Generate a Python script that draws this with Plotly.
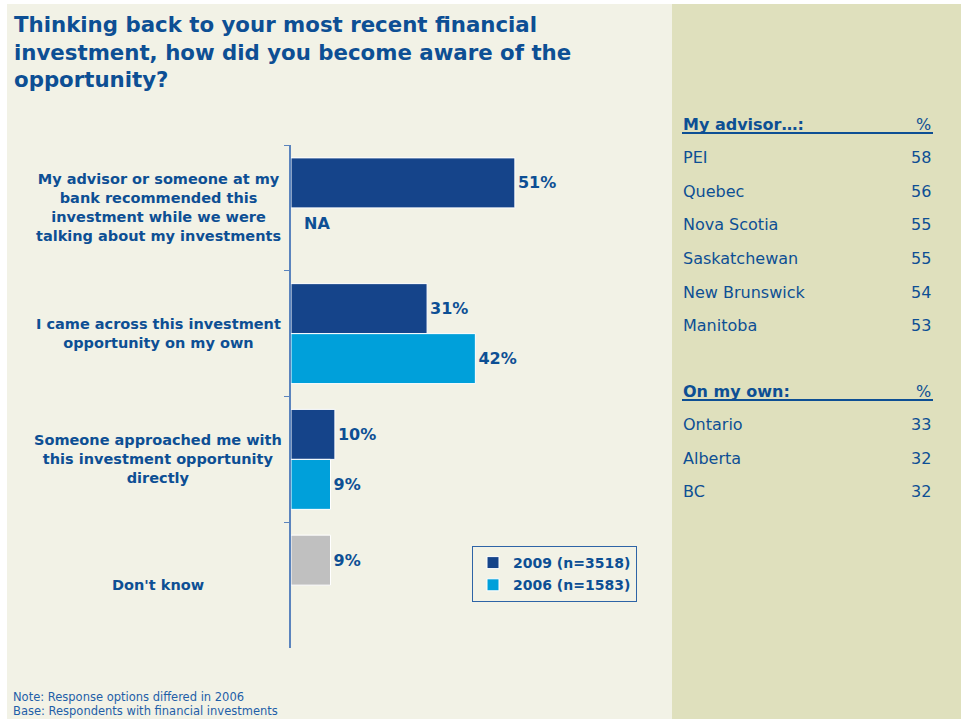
import plotly.graph_objects as go

# ---------------- data ----------------
categories = [
    "My advisor or someone at my<br>bank recommended this<br>investment while we were<br>talking about my investments",
    "I came across this investment<br>opportunity on my own",
    "Someone approached me with<br>this investment opportunity<br>directly",
    "Don't know",
]
v2009 = [51, 31, 10, 9]
v2006 = [None, 42, 9, None]
series_names = ["2009 (n=3518)", "2006 (n=1583)"]

advisor_regions = ["PEI", "Quebec", "Nova Scotia", "Saskatchewan", "New Brunswick", "Manitoba"]
advisor_pct = [58, 56, 55, 55, 54, 53]
own_regions = ["Ontario", "Alberta", "BC"]
own_pct = [33, 32, 32]

title_text = ("Thinking back to your most recent financial<br>"
              "investment, how did you become aware of the<br>opportunity?")
notes = ["Note: Response options differed in 2006", "Base: Respondents with financial investments"]

# ---------------- style ----------------
DARK = "#15448A"
LIGHT = "#00A0DA"
GRAY = "#C0C0C0"
TXT = "#0D4F94"
CREAM = "#F2F2E6"
GREEN = "#DFE0BD"
FONT = "DejaVu Sans"

W, H = 961, 719
ML, MR, MT, MB = 291, 296, 145, 71


def px(X):
    return (X - ML) / (W - ML - MR)


def py(Y):
    return (H - MB - Y) / (H - MT - MB)


colors2009 = [DARK] * 3 + [GRAY]

fig = go.Figure()
fig.add_trace(go.Bar(
    y=categories, x=v2009, orientation="h", name=series_names[0],
    marker=dict(color=colors2009, line=dict(color="white", width=1)),
    texttemplate="<b>%{x}%</b>", textposition="outside", cliponaxis=False,
    textfont=dict(family=FONT, size=16, color=TXT),
    legendgroup="a",
))
fig.add_trace(go.Bar(
    y=categories, x=v2006, orientation="h", name=series_names[1],
    marker=dict(color=LIGHT, line=dict(color="white", width=1)),
    texttemplate="<b>%{x}%</b>", textposition="outside", cliponaxis=False,
    textfont=dict(family=FONT, size=16, color=TXT),
    legendgroup="b",
))

shapes = [
    dict(type="rect", xref="paper", yref="paper", x0=px(7), x1=px(672), y0=py(4), y1=py(H),
         fillcolor=CREAM, line=dict(width=0), layer="below"),
    dict(type="rect", xref="paper", yref="paper", x0=px(672), x1=px(W), y0=py(4), y1=py(H),
         fillcolor=GREEN, line=dict(width=0), layer="below"),
]

annotations = [
    dict(text="<b>" + title_text + "</b>", xref="paper", yref="paper", x=px(12), y=py(10),
         xanchor="left", yanchor="top", align="left", showarrow=False,
         font=dict(family=FONT, size=21.3, color=TXT)),
    dict(text="<b>NA</b>", xref="x", yref="y", x=0, y=categories[0], xanchor="left",
         xshift=11, yshift=-16, showarrow=False, font=dict(family=FONT, size=16, color=TXT)),
]
for c in categories:
    annotations.append(dict(text="<b>" + c + "</b>", xref="paper", yref="y", x=px(158), y=c,
                            xanchor="center", yanchor="middle", align="center", showarrow=False,
                            font=dict(family=FONT, size=14.5, color=TXT)))


# right-hand table
def table(header, names, vals, y0):
    annotations.append(dict(text="<b>" + header + "</b>", xref="paper", yref="paper", x=px(681),
                            y=py(y0), xanchor="left", yanchor="middle", showarrow=False,
                            font=dict(family=FONT, size=16, color=TXT)))
    annotations.append(dict(text="%", xref="paper", yref="paper", x=px(933), y=py(y0),
                            xanchor="right", yanchor="middle", showarrow=False,
                            font=dict(family=FONT, size=16, color=TXT)))
    shapes.append(dict(type="line", xref="paper", yref="paper", x0=px(682), x1=px(933),
                       y0=py(y0 + 9), y1=py(y0 + 9), line=dict(color=TXT, width=2)))
    for i, (n, v) in enumerate(zip(names, vals)):
        yy = y0 + 33.6 * (i + 1)
        annotations.append(dict(text=n, xref="paper", yref="paper", x=px(681), y=py(yy),
                                xanchor="left", yanchor="middle", showarrow=False,
                                font=dict(family=FONT, size=16, color=TXT)))
        annotations.append(dict(text=str(v), xref="paper", yref="paper", x=px(933), y=py(yy),
                                xanchor="right", yanchor="middle", showarrow=False,
                                font=dict(family=FONT, size=16, color=TXT)))


table("My advisor…:", advisor_regions, advisor_pct, 124)
table("On my own:", own_regions, own_pct, 391)

for i, n in enumerate(notes):
    annotations.append(dict(text=n, xref="paper", yref="paper", x=px(11), y=py(697 + 14 * i),
                            xanchor="left", yanchor="middle", showarrow=False,
                            font=dict(family=FONT, size=11.5, color="#1F5FA8")))

fig.update_layout(
    width=W, height=H,
    margin=dict(l=ML, r=MR, t=MT, b=MB),
    paper_bgcolor="white", plot_bgcolor="rgba(0,0,0,0)",
    barmode="group", bargap=0.205, bargroupgap=0,
    showlegend=True,
    legend=dict(x=px(472), y=py(546), xanchor="left", yanchor="top",
                bordercolor="#2E64A6", borderwidth=1, bgcolor="rgba(0,0,0,0)",
                font=dict(family=FONT, size=14, color=TXT, weight="bold"),
                traceorder="grouped", tracegroupgap=1, itemwidth=30),
    xaxis=dict(visible=False, range=[0, 85.2], fixedrange=True),
    yaxis=dict(type="category", autorange="reversed", showticklabels=False, showgrid=False,
               showline=True, linecolor="#5B84BD", linewidth=1.5, ticks="outside",
               tickson="boundaries", ticklen=5, tickcolor="#5B84BD", zeroline=False,
               fixedrange=True),
    shapes=shapes, annotations=annotations,
    font=dict(family=FONT, color=TXT),
)

fig.write_html(
    "out.html",
    config={"displayModeBar": False},
    post_script="document.body.style.margin='0';document.body.style.overflow='hidden';",
)
